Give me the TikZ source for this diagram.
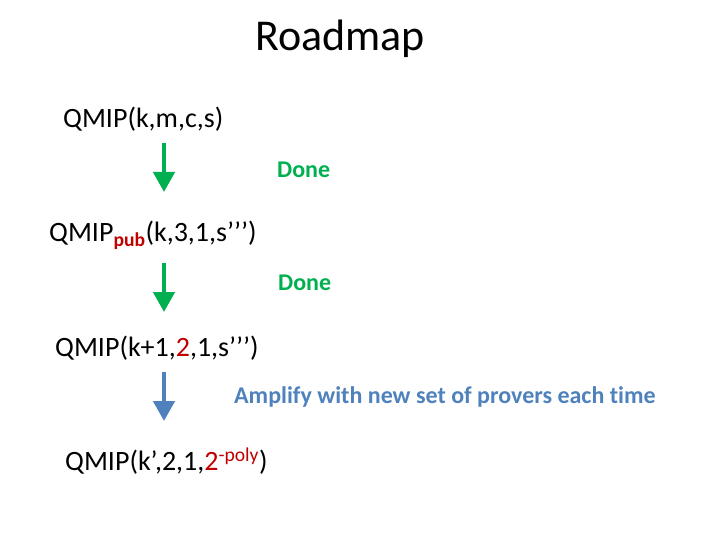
\documentclass[tikz,border=0pt]{standalone}
\usepackage{fontspec}
\setmainfont[Ligatures=NoCommon]{Carlito}
\usetikzlibrary{arrows.meta}
\definecolor{dgreen}{RGB}{0,176,80}
\definecolor{dblue}{RGB}{79,129,189}
\definecolor{dred}{RGB}{192,0,0}
\begin{document}
\begin{tikzpicture}[x=1pt,y=-1pt,
  txt/.style={anchor=west,inner sep=0pt,font=\fontsize{28}{32}\selectfont},
  lbl/.style={anchor=west,inner sep=0pt,font=\fontsize{24}{28}\selectfont\bfseries},
  blockarrow/.style={line width=4.5pt,-{Triangle[length=20pt,width=21pt]}}]
\useasboundingbox (0,0) rectangle (720,540);
\node[inner sep=0pt,font=\fontsize{44}{52}\selectfont] (title) at (340,39) {Roadmap};
\node[txt] (q1) at (63,119) {QMIP(k,m,c,s)};
\node[txt] (q2) at (49,235) {QMIP\textsubscript{\color{dred}\bfseries pub}(k,3,1,s’’’)};
\node[txt] (q3) at (55,348) {QMIP(k+1,{\color{dred}2},1,s’’’)};
\node[txt] (q4) at (65,461) {QMIP(k’,2,1,{\color{dred}2\textsuperscript{-poly}})};
\coordinate (a1s) at (164,143);
\coordinate (a1e) at (164,192);
\coordinate (a2s) at (164,263);
\coordinate (a2e) at (164,312);
\coordinate (a3s) at (164,372);
\coordinate (a3e) at (164,421);
\draw[blockarrow,dgreen] (a1s) -- (a1e);
\draw[blockarrow,dgreen] (a2s) -- (a2e);
\draw[blockarrow,dblue] (a3s) -- (a3e);
\node[lbl,text=dgreen] (d1) at (277,170) {Done};
\node[lbl,text=dgreen] (d2) at (278,283) {Done};
\node[lbl,text=dblue] (amp) at (234,397) {Amplify with new set of provers each time};
\end{tikzpicture}
\end{document}
